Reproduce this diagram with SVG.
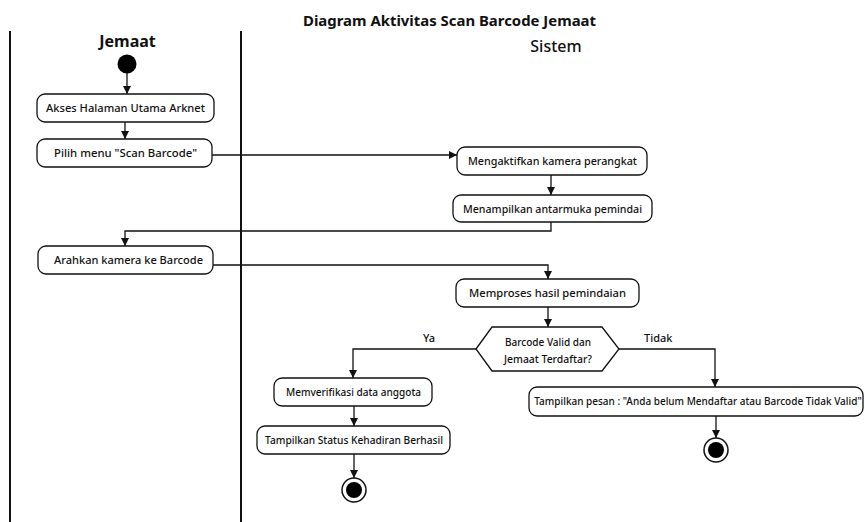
<svg xmlns="http://www.w3.org/2000/svg" width="865" height="522" viewBox="0 0 865 522">
  <style>
    .lane { stroke: #111; stroke-width: 2; }
    .act rect { fill: #fff; stroke: #111; stroke-width: 1.3; }
    .act text, .dec text { font-family: "Noto Sans", "Open Sans", sans-serif; font-size: 11px; font-weight: 500; fill: #111; text-anchor: middle; }
    .dec polygon { fill: #fff; stroke: #111; stroke-width: 1.3; }
    .edge { fill: none; stroke: #111; stroke-width: 1.3; }
    .lbl { font-family: "Noto Sans", "Open Sans", sans-serif; font-size: 11px; font-weight: 500; fill: #111; }
    .hdr { font-family: "Noto Sans", "Open Sans", sans-serif; fill: #111; text-anchor: middle; }
  </style>
  <defs>
    <marker id="arr" viewBox="0 0 10 10" refX="10" refY="5" markerWidth="8" markerHeight="8" markerUnits="userSpaceOnUse" orient="auto">
      <path d="M0,0 L10,5 L0,10 z" fill="#111"/>
    </marker>
  </defs>
  <rect width="865" height="522" fill="#fff"/>

  <!-- title and swimlanes -->
  <text class="hdr" x="449.5" y="26" font-size="15" font-weight="bold" textLength="293" lengthAdjust="spacingAndGlyphs">Diagram Aktivitas Scan Barcode Jemaat</text>
  <line class="lane" x1="10" y1="31" x2="10" y2="522"/>
  <line class="lane" x1="241" y1="31" x2="241" y2="522"/>
  <text class="hdr" x="127.5" y="47" font-size="16" font-weight="bold">Jemaat</text>
  <text class="hdr" x="556" y="52" font-size="16" font-weight="500">Sistem</text>

  <!-- connectors -->
  <g id="connectors">
    <path class="edge" d="M127,73 V94" marker-end="url(#arr)"/>
    <path class="edge" d="M125,122 V139" marker-end="url(#arr)"/>
    <path class="edge" d="M212,155 H457" marker-end="url(#arr)"/>
    <path class="edge" d="M551,175 V195" marker-end="url(#arr)"/>
    <path class="edge" d="M551,222 V231 H125 V246" marker-end="url(#arr)"/>
    <path class="edge" d="M213,265 H548 V279" marker-end="url(#arr)"/>
    <path class="edge" d="M548,307 V327" marker-end="url(#arr)"/>
    <path class="edge" d="M476,349 H353 V378" marker-end="url(#arr)"/>
    <path class="edge" d="M619,349 H715 V387" marker-end="url(#arr)"/>
    <path class="edge" d="M354,406 V426" marker-end="url(#arr)"/>
    <path class="edge" d="M354,454 V478" marker-end="url(#arr)"/>
    <path class="edge" d="M716,416 V438" marker-end="url(#arr)"/>
    <text class="lbl" x="423" y="342">Ya</text>
    <text class="lbl" x="644" y="342">Tidak</text>
  </g>

  <g id="start"><circle cx="127" cy="64" r="9.5" fill="#000"/></g>

  <g id="akses" class="act">
    <rect x="37" y="94" width="177" height="28" rx="8"/>
    <text x="125.5" y="112" textLength="159" lengthAdjust="spacingAndGlyphs">Akses Halaman Utama Arknet</text>
  </g>
  <g id="pilih" class="act">
    <rect x="37" y="139" width="175" height="28" rx="8"/>
    <text x="125.5" y="157" textLength="143" lengthAdjust="spacingAndGlyphs">Pilih menu "Scan Barcode"</text>
  </g>
  <g id="aktifkan" class="act">
    <rect x="457" y="147" width="190" height="28" rx="8"/>
    <text x="552.5" y="165" textLength="169" lengthAdjust="spacingAndGlyphs">Mengaktifkan kamera perangkat</text>
  </g>
  <g id="antarmuka" class="act">
    <rect x="453" y="195" width="199" height="27" rx="8"/>
    <text x="552.5" y="213" textLength="179" lengthAdjust="spacingAndGlyphs">Menampilkan antarmuka pemindai</text>
  </g>
  <g id="arahkan" class="act">
    <rect x="38" y="246" width="175" height="28" rx="8"/>
    <text x="128.5" y="264" textLength="149" lengthAdjust="spacingAndGlyphs">Arahkan kamera ke Barcode</text>
  </g>
  <g id="memproses" class="act">
    <rect x="456" y="279" width="183" height="28" rx="8"/>
    <text x="547.5" y="297" textLength="157" lengthAdjust="spacingAndGlyphs">Memproses hasil pemindaian</text>
  </g>
  <g id="decision" class="dec">
    <polygon points="476,349 492,327 602,327 619,349 602,371 492,371"/>
    <text x="548" y="346" textLength="86" lengthAdjust="spacingAndGlyphs">Barcode Valid dan</text>
    <text x="548" y="363" textLength="88" lengthAdjust="spacingAndGlyphs">Jemaat Terdaftar?</text>
  </g>
  <g id="verifikasi" class="act">
    <rect x="274" y="378" width="158" height="28" rx="8"/>
    <text x="353.5" y="396" textLength="135" lengthAdjust="spacingAndGlyphs">Memverifikasi data anggota</text>
  </g>
  <g id="berhasil" class="act">
    <rect x="257" y="426" width="193" height="28" rx="8"/>
    <text x="354" y="444" textLength="178" lengthAdjust="spacingAndGlyphs">Tampilkan Status Kehadiran Berhasil</text>
  </g>
  <g id="pesan" class="act">
    <rect x="529" y="387" width="334" height="29" rx="8"/>
    <text x="698" y="405" style="font-size:10px">Tampilkan pesan : "Anda belum Mendaftar atau Barcode Tidak Valid"</text>
  </g>
  <g id="end1">
    <circle cx="354" cy="490" r="12" fill="#fff" stroke="#111" stroke-width="1.5"/>
    <circle cx="354" cy="490" r="8" fill="#000"/>
  </g>
  <g id="end2">
    <circle cx="716" cy="450" r="12" fill="#fff" stroke="#111" stroke-width="1.5"/>
    <circle cx="716" cy="450" r="8" fill="#000"/>
  </g>
</svg>
